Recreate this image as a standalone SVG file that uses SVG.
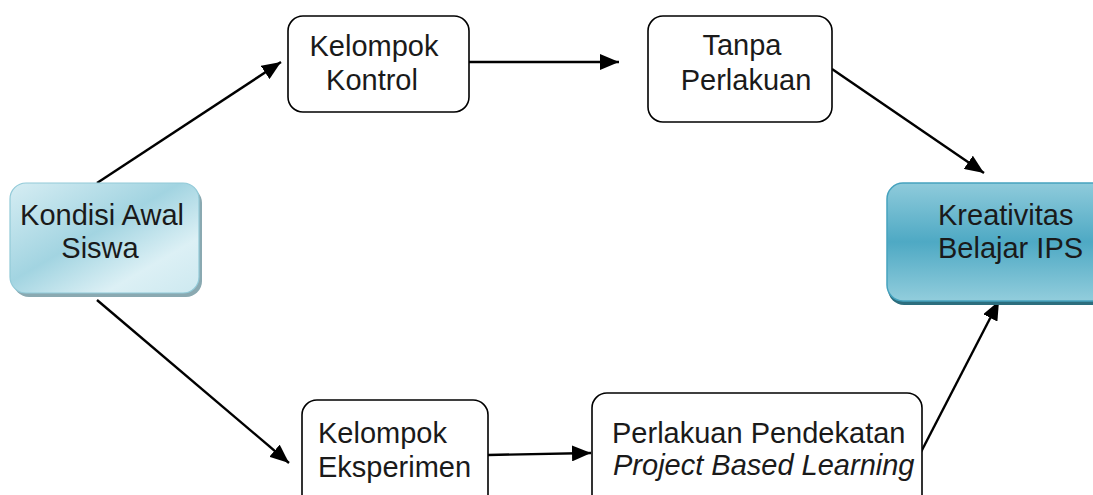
<svg xmlns="http://www.w3.org/2000/svg" width="1093" height="495" viewBox="0 0 1093 495">
<defs>
<linearGradient id="gA" x1="0" y1="0" x2="1" y2="1">
<stop offset="0" stop-color="#d6edf3"/>
<stop offset="0.45" stop-color="#a2d4e1"/>
<stop offset="0.75" stop-color="#dcf0f5"/>
<stop offset="1" stop-color="#cde9f0"/>
</linearGradient>
<linearGradient id="gB" x1="0" y1="0" x2="0" y2="1">
<stop offset="0" stop-color="#8fcbdb"/>
<stop offset="0.5" stop-color="#4ea9c4"/>
<stop offset="1" stop-color="#92cddc"/>
</linearGradient>
<marker id="ah" markerUnits="userSpaceOnUse" markerWidth="20" markerHeight="16" refX="19" refY="8" orient="auto">
<path d="M0,0 L19,8 L0,16 Z" fill="#000"/>
</marker>
<style>
.box{fill:#fff;stroke:#000;stroke-width:1.6}
.t{font-family:"Liberation Sans",Arial,sans-serif;font-size:29px;fill:#1a1a1a}
.c{stroke:#000;stroke-width:2.4;fill:none;marker-end:url(#ah)}
</style>
</defs>
<rect width="1093" height="495" fill="#fff"/>
<g id="connectors">
<line class="c" x1="97" y1="183" x2="281" y2="62"/>
<line class="c" x1="469" y1="62" x2="619" y2="62"/>
<line class="c" x1="832" y1="69" x2="984" y2="173"/>
<line class="c" x1="97" y1="300" x2="289" y2="463"/>
<line class="c" x1="488" y1="455" x2="591" y2="453"/>
<line class="c" x1="921" y1="452" x2="999" y2="301"/>
</g>
<g id="kondisi">
<rect x="13" y="187" width="189" height="110" rx="16" fill="#8aa9b1"/>
<rect x="10" y="183" width="189" height="110" rx="16" fill="url(#gA)" stroke="#92cad8" stroke-width="1.2"/>
<text class="t" x="102" y="225" text-anchor="middle">Kondisi Awal</text>
<text class="t" x="100" y="258" text-anchor="middle">Siswa</text>
</g>
<g id="kontrol">
<rect class="box" x="288" y="16" width="181" height="96" rx="15"/>
<text class="t" x="374" y="56" text-anchor="middle">Kelompok</text>
<text class="t" x="372" y="90" text-anchor="middle">Kontrol</text>
</g>
<g id="tanpa">
<rect class="box" x="648" y="16" width="184" height="106" rx="15"/>
<text class="t" x="742" y="55" text-anchor="middle">Tanpa</text>
<text class="t" x="746" y="90" text-anchor="middle">Perlakuan</text>
</g>
<g id="kreativitas">
<rect x="888" y="188" width="220" height="117" rx="16" fill="#2c6e7e"/>
<rect x="887" y="183" width="220" height="118" rx="16" fill="url(#gB)" stroke="#45a2be" stroke-width="1.5"/>
<text class="t" x="938" y="225">Kreativitas</text>
<text class="t" x="938" y="258">Belajar IPS</text>
</g>
<g id="eksperimen">
<rect class="box" x="302" y="400" width="186" height="110" rx="15"/>
<text class="t" x="318" y="443">Kelompok</text>
<text class="t" x="318" y="477">Eksperimen</text>
</g>
<g id="perlakuan">
<rect class="box" x="592" y="393" width="330" height="117" rx="15"/>
<text class="t" x="612" y="443">Perlakuan Pendekatan</text>
<text class="t" x="613" y="475" font-style="italic">Project Based Learning</text>
</g>
</svg>
